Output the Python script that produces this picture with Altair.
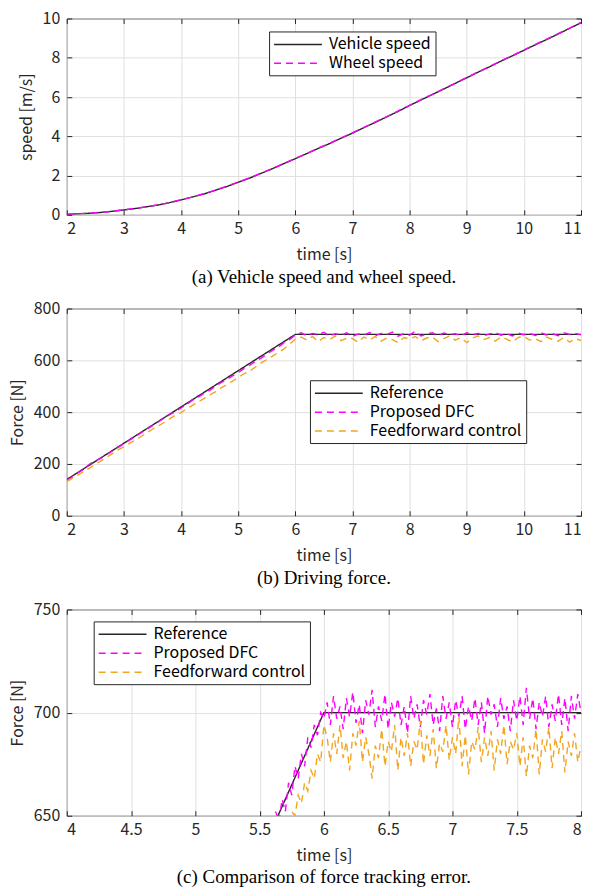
import altair as alt
import pandas as pd

FONT = "Noto Sans CJK JP"
SERIF = "Liberation Serif"
INK = "#262626"

# ---------------- Panel (a): speeds ----------------
speed_time = [round(2 + 0.2 * i, 1) for i in range(46)]
vehicle_speed = [0.02, 0.05, 0.08, 0.12, 0.18, 0.25, 0.32, 0.41, 0.50, 0.62,
                 0.76, 0.91, 1.06, 1.25, 1.44, 1.66, 1.87, 2.11, 2.35, 2.61,
                 2.86, 3.12, 3.38, 3.63, 3.90, 4.16, 4.44, 4.71, 4.99, 5.27,
                 5.57, 5.85, 6.13, 6.41, 6.70, 6.98, 7.27, 7.54, 7.83, 8.10,
                 8.38, 8.66, 8.93, 9.21, 9.50, 9.78]
wheel_speed = [0.02, 0.06, 0.08, 0.13, 0.18, 0.26, 0.32, 0.42, 0.51, 0.62,
               0.77, 0.91, 1.08, 1.25, 1.46, 1.67, 1.88, 2.12, 2.36, 2.61,
               2.88, 3.12, 3.40, 3.64, 3.91, 4.18, 4.45, 4.73, 5.00, 5.29,
               5.58, 5.87, 6.14, 6.43, 6.71, 7.00, 7.28, 7.56, 7.84, 8.12,
               8.40, 8.68, 8.95, 9.23, 9.51, 9.80]

# ---------------- Panel (b): driving force ----------------
ref_time = [2, 6, 11]
ref_force = [140, 700, 700]
force_time = [round(2 + 0.1 * i, 1) for i in range(91)]
dfc_force = [138, 150, 166, 180, 200, 212, 222, 236, 250, 264,
             278, 292, 306, 320, 334, 348, 362, 376, 390, 402,
             416, 430, 446, 458, 472, 484, 500, 514, 526, 540,
             552, 568, 580, 596, 608, 624, 638, 650, 668, 680,
             698, 706, 695, 704, 699, 708, 694, 703, 697, 706,
             692, 702, 698, 707, 695, 704, 700, 709, 693, 703,
             697, 712, 694, 702, 706, 696, 705, 699, 703, 694,
             706, 698, 704, 695, 702, 707, 697, 703, 694, 705,
             699, 704, 696, 706, 698, 703, 695, 706, 700, 704,
             698]
ff_force = [132, 145, 158, 172, 184, 200, 212, 226, 240, 254,
            266, 280, 292, 306, 320, 334, 346, 360, 374, 388,
            398, 414, 426, 440, 452, 466, 478, 494, 506, 520,
            534, 548, 558, 574, 590, 602, 616, 630, 644, 662,
            682, 690, 678, 692, 672, 688, 680, 694, 676, 686,
            684, 670, 690, 678, 692, 674, 686, 680, 668, 688,
            682, 692, 676, 686, 690, 672, 684, 694, 678, 688,
            668, 686, 694, 680, 688, 674, 690, 682, 670, 688,
            692, 678, 684, 672, 690, 680, 674, 688, 670, 684,
            676]

# ---------------- Panel (c): zoomed tracking ----------------
zoom_time = [round(5.5 + 0.025 * i, 3) for i in range(101)]
dfc_zoom = [628, 636, 634, 643, 640, 652, 647, 658, 652, 666, 660, 674, 668, 680, 674, 688, 683, 694, 689, 700, 697,
            705, 694, 708, 697, 703, 692, 707, 698, 710, 695,
            704, 690, 706, 699, 711, 693, 703, 696, 709, 692,
            705, 698, 707, 694, 703, 690, 708, 697, 704, 693,
            706, 699, 709, 694, 702, 691, 708, 697, 705, 693,
            706, 698, 708, 692, 703, 696, 707, 694, 705, 690,
            708, 699, 704, 693, 707, 697, 703, 691, 706, 696,
            708, 694, 712, 697, 707, 692, 705, 698, 708, 693,
            704, 696, 709, 694, 707, 691, 708, 697, 709, 700]
ff_zoom = [615, 620, 622, 626, 630, 634, 636, 640, 644, 648, 652, 650, 660, 656, 666, 662, 672, 668, 680, 676, 694,
           688, 676, 690, 680, 694, 678, 686, 672, 690, 684,
           696, 676, 688, 680, 668, 684, 678, 692, 674, 686,
           681, 694, 672, 688, 679, 690, 674, 686, 682, 696,
           675, 689, 679, 692, 673, 685, 681, 694, 677, 688,
           680, 698, 674, 689, 670, 686, 682, 693, 676, 688,
           679, 691, 672, 687, 680, 694, 675, 686, 682, 690,
           674, 688, 669, 684, 678, 692, 670, 687, 681, 693,
           673, 688, 680, 691, 671, 686, 679, 690, 676, 684]

speed_names = ["Vehicle speed", "Wheel speed"]
force_names = ["Reference", "Proposed DFC", "Feedforward control"]
speed_colors = [INK, "#FF00FF"]
force_colors = [INK, "#FF00FF", "#F2A51F"]
speed_dashes = [[1, 0], [7, 5]]
force_dashes = [[1, 0], [7, 5], [7, 5]]


def frame(times, values, name):
    return pd.DataFrame({"t": times, "v": values, "series": name})


df_a = pd.concat([frame(speed_time, vehicle_speed, speed_names[0]),
                  frame(speed_time, wheel_speed, speed_names[1])])
df_b = pd.concat([frame(ref_time, ref_force, force_names[0]),
                  frame(force_time, dfc_force, force_names[1]),
                  frame(force_time, ff_force, force_names[2])])
df_c = pd.concat([frame(ref_time, ref_force, force_names[0]),
                  frame(zoom_time, dfc_zoom, force_names[1]),
                  frame(zoom_time, ff_zoom, force_names[2])])


def panel(df, names, colors, dashes, xdom, xvals, ydom, yvals, ytitle,
          lx, ly, caption, h):
    xs = alt.Scale(domain=xdom, nice=False, zero=False)
    ys = alt.Scale(domain=ydom, nice=False, zero=False)
    leg = alt.Legend(orient="none", legendX=lx, legendY=ly, title=None,
                     symbolType="M-3,0H3", symbolSize=256, symbolStrokeWidth=1.5,
                     labelFont=FONT, labelFontSize=16, labelColor="black",
                     strokeColor=INK, fillColor="white", padding=4,
                     rowPadding=2, labelOffset=22, symbolOffset=16)
    lines = alt.Chart(df).mark_line(clip=True, strokeWidth=1.4).encode(
        x=alt.X("t:Q", scale=xs, axis=alt.Axis(
            values=xvals, format="~f", title="time [s]", offset=-5, tickSize=5,
            domain=False, grid=True, labelPadding=6, titlePadding=10,
            minExtent=0)),
        y=alt.Y("v:Q", scale=ys, axis=alt.Axis(
            values=yvals, format="~f", title=ytitle, offset=-5, tickSize=5,
            domain=False, grid=True, labelPadding=7, titlePadding=8,
            minExtent=0)),
        color=alt.Color("series:N", scale=alt.Scale(domain=names, range=colors), legend=leg),
        strokeDash=alt.StrokeDash("series:N", scale=alt.Scale(domain=names, range=dashes), legend=leg),
    )
    ticks = alt.Chart(df).mark_line(clip=True, opacity=0).encode(
        x=alt.X("t:Q", scale=xs, axis=alt.Axis(
            orient="top", values=xvals, labels=False, title=None, offset=-5,
            tickSize=5, domain=False, grid=False, minExtent=0, maxExtent=0)),
        y=alt.Y("v:Q", scale=ys, axis=alt.Axis(
            orient="right", values=yvals, labels=False, title=None, offset=-5,
            tickSize=5, domain=False, grid=False, minExtent=0, maxExtent=0)),
    )
    return alt.layer(lines, ticks).resolve_axis(x="independent", y="independent").properties(
        width=516, height=h,
        title=alt.TitleParams(text=caption, orient="bottom", anchor="middle",
                              font=SERIF, fontSize=19, fontWeight="normal",
                              color="black", offset=5))


pa = panel(df_a, speed_names, speed_colors, speed_dashes, [2, 11], list(range(2, 12)),
           [0, 10], [0, 2, 4, 6, 8, 10], "speed [m/s]", 203, 13,
           "(a) Vehicle speed and wheel speed.", 197)
pb = panel(df_b, force_names, force_colors, force_dashes, [2, 11], list(range(2, 12)),
           [0, 800], [0, 200, 400, 600, 800], "Force [N]", 244, 72,
           "(b) Driving force.", 208)
pc = panel(df_c, force_names, force_colors, force_dashes, [4, 8],
           [4, 4.5, 5, 5.5, 6, 6.5, 7, 7.5, 8],
           [650, 750], [650, 700, 750], "Force [N]", 27, 12,
           "(c) Comparison of force tracking error.", 207)

chart = alt.vconcat(pa, pb, pc, spacing=12).resolve_scale(
    color="independent", strokeDash="independent"
).properties(
    padding={"left": 0, "top": 0, "right": 0, "bottom": 0}
).configure_view(stroke=INK, strokeWidth=1).configure_axis(
    labelFont=FONT, labelFontSize=16, labelColor=INK,
    titleFont=FONT, titleFontSize=16, titleColor=INK, titleFontWeight="normal",
    gridColor="#e0e0e0", gridWidth=1, tickColor=INK, tickWidth=1
)

chart.save("out.html", embed_options={"renderer": "svg", "actions": False})
